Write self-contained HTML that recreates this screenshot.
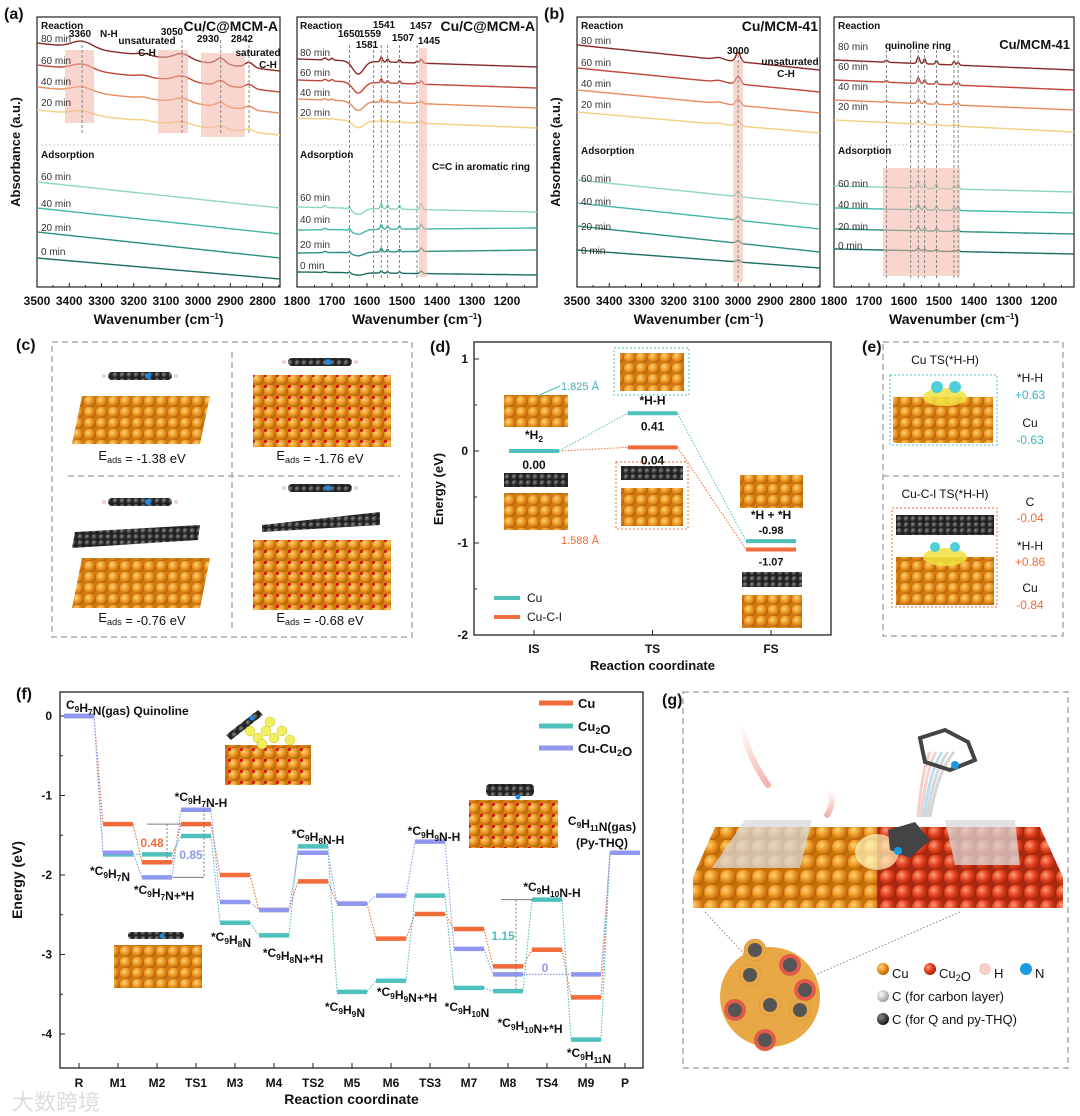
<!DOCTYPE html>
<html><head><meta charset="utf-8">
<style>
html,body{margin:0;padding:0;background:#fff;}
svg{display:block;font-family:"Liberation Sans","Noto Sans CJK SC",sans-serif;}
.b{font-weight:bold;}
</style></head>
<body>
<svg id="fig" width="1080" height="1116" viewBox="0 0 1080 1116" xmlns="http://www.w3.org/2000/svg">
<defs>
<radialGradient id="gCu" cx="0.35" cy="0.35" r="0.7"><stop offset="0" stop-color="#ffd27a"/><stop offset="0.5" stop-color="#eb9520"/><stop offset="1" stop-color="#b25c05"/></radialGradient>
<radialGradient id="gRed" cx="0.35" cy="0.35" r="0.7"><stop offset="0" stop-color="#ff9a7a"/><stop offset="0.5" stop-color="#e0401e"/><stop offset="1" stop-color="#a02008"/></radialGradient>
<radialGradient id="gC" cx="0.35" cy="0.35" r="0.7"><stop offset="0" stop-color="#888"/><stop offset="1" stop-color="#111"/></radialGradient>
<radialGradient id="gW" cx="0.35" cy="0.35" r="0.7"><stop offset="0" stop-color="#fff"/><stop offset="1" stop-color="#999"/></radialGradient>
<pattern id="pCu" width="12" height="11" patternUnits="userSpaceOnUse"><rect width="12" height="11" fill="#d07a10"/><circle cx="6" cy="5.5" r="6" fill="url(#gCu)"/></pattern>
<pattern id="pCu2O" width="12" height="11" patternUnits="userSpaceOnUse"><rect width="12" height="11" fill="#d07a10"/><circle cx="6" cy="5.5" r="6" fill="url(#gCu)"/><circle cx="1" cy="1" r="2" fill="#d51515"/></pattern>
<pattern id="pC" width="7" height="6" patternUnits="userSpaceOnUse"><rect width="7" height="6" fill="#222"/><circle cx="3.5" cy="3" r="3" fill="url(#gC)"/></pattern>
<pattern id="pCuG" width="16" height="15" patternUnits="userSpaceOnUse"><rect width="16" height="15" fill="#c8700a"/><circle cx="8" cy="7.5" r="8" fill="url(#gCu)"/></pattern>
<pattern id="pRedG" width="16" height="15" patternUnits="userSpaceOnUse"><rect width="16" height="15" fill="#a82a0e"/><circle cx="8" cy="7.5" r="8" fill="url(#gRed)"/></pattern>
<linearGradient id="gStreak" x1="0" y1="0" x2="0" y2="1"><stop offset="0" stop-color="#f4b8b0" stop-opacity="0"/><stop offset="1" stop-color="#f4a8a0" stop-opacity="0.9"/></linearGradient>
</defs>
<g id="root"></g>
</svg>
<script>
// ================= DATA =================
// Panel (f)
const fCats = ["R","M1","M2","TS1","M3","M4","TS2","M5","M6","TS3","M7","M8","TS4","M9","P"];
const fCu = [0,-1.36,-1.84,-1.36,-2.0,-2.44,-2.08,-2.36,-2.80,-2.49,-2.68,-3.15,-2.94,-3.54,-1.72];
const fCu2O = [0,-1.74,-1.74,-1.51,-2.60,-2.76,-1.64,-3.47,-3.33,-2.26,-3.42,-3.46,-2.31,-4.07,-1.72];
const fCuCu2O = [0,-1.72,-2.03,-1.18,-2.34,-2.44,-1.72,-2.36,-2.26,-1.58,-2.93,-3.25,null,-3.25,-1.72];
const fYTicks = [0,-1,-2,-3,-4];
// Panel (d)
const dCats = ["IS","TS","FS"];
const dCu = [0.00,0.41,-0.98];
const dCuCl = [0.00,0.04,-1.07];
const dYTicks = [1,0,-1,-2];
// IR spectra: peaks [wavenumber, amplitude(px), width]
const aLeftReactPeaks = [[3360,7,45],[3050,6,35],[2930,6,20],[2842,5,18],[3170,2,25]];
const aLeftAdsPeaks = [];
const aRightReactPeaks = [[1625,-13,22],[1559,5,4],[1541,3,4],[1507,3,4],[1457,2,4],[1445,4,5],[1720,2,6],[1700,2,5]];
const aRightAdsPeaks = [[1625,-6,22],[1559,6,4],[1541,4,4],[1507,4,4],[1445,6,5],[1650,3,4],[1720,2,6]];
const bLeftReactPeaks = [[3000,9,10],[3060,2,20]];
const bLeftAdsPeaks = [[3000,5,8]];
const bRightReactPeaks = [[1559,7,5],[1541,5,4],[1507,4,4],[1457,4,4],[1445,3,4],[1650,2,5]];
const bRightAdsPeaks = [[1559,7,5],[1541,5,4],[1507,5,4],[1445,5,4],[1457,3,4]];
const reactLabels = ["80 min","60 min","40 min","20 min"];
const adsLabels = ["60 min","40 min","20 min","0 min"];
const leftTicks = [3500,3400,3300,3200,3100,3000,2900,2800];
const rightTicks = [1800,1700,1600,1500,1400,1300,1200];

// ================= HELPERS =================
const NS="http://www.w3.org/2000/svg";
const root=document.getElementById('root');
function mk(tag,attrs,parent,txt){const e=document.createElementNS(NS,tag);for(const k in attrs)e.setAttribute(k,attrs[k]);if(txt!==undefined)e.textContent=txt;(parent||root).appendChild(e);return e;}
function grp(name,parent){const g=mk('g',{},parent);


return g;}
function txt(parent,x,y,s,opt){opt=opt||{};const t=mk('text',{x:x,y:y,'font-size':opt.fs||11,fill:opt.fill||'#111','text-anchor':opt.a||'start','font-weight':opt.w||'bold'},parent);
if(opt.rot)t.setAttribute('transform','rotate(-90 '+x+' '+y+')');
t.innerHTML=s;


return t;}
const sub=(s)=>'<tspan font-size="0.7em" dy="3">'+s+'</tspan><tspan dy="-3"></tspan>';

// ================= IR PANELS =================
const reactCols=["#8a2a28","#c2453a","#e98a5c","#f4cf7e"];
const adsCols=["#8cd6bf","#42b7a8","#2a907f","#1e6c60"];
function irPanel(name,ox,x1,wLeft,wRight,ticks,reactPeaks,adsPeaks,reactBase,adsBase,label){
 const g=grp(name);
 const x0=ox, top=17, bot=287;
 const xs=w=>x0+(wLeft-w)/(wLeft-wRight)*(x1-x0);
 mk('rect',{x:x0,y:top,width:x1-x0,height:bot-top,fill:'none',stroke:'#222','stroke-width':1.2},g);
 mk('line',{x1:x0,y1:145,x2:x1,y2:145,stroke:'#bbb','stroke-width':0.8,'stroke-dasharray':'2 2'},g);
 ticks.forEach(t=>{const x=xs(t);mk('line',{x1:x,y1:bot,x2:x,y2:bot-4,stroke:'#222'},g);
   const mx=xs(t-50); if(mx<x1) mk('line',{x1:mx,y1:bot,x2:mx,y2:bot-2,stroke:'#222'},g);
   txt(g,x,305,t,{fs:12,a:'middle',name:'x-tick-label'});});
 txt(g,(x0+x1)/2,324,'Wavenumber (cm<tspan font-size="8" dy="-5">−1</tspan><tspan dy="5">)</tspan>',{fs:14,a:'middle',name:'x-axis-title'});
 function spec(base,peaks,col,scale){
   let d='';
   for(let x=x0;x<=x1;x+=1){const w=wLeft-(x-x0)/(x1-x0)*(wLeft-wRight);
     let y=base[0]+(base[1]-base[0])*(x-x0)/(x1-x0);
     peaks.forEach(p=>{y-=p[1]*scale*Math.exp(-Math.pow((w-p[0])/p[2],2));});
     d+=(x===x0?'M':'L')+x+' '+y.toFixed(1);}
   const p=mk('path',{d:d,fill:'none',stroke:col,'stroke-width':1.4},g);
   
   
 }
 reactBase.forEach((b,i)=>spec(b,reactPeaks,reactCols[i],1-i*0.15));
 adsBase.forEach((b,i)=>spec(b,adsPeaks,adsCols[i],1-i*0.2));
 return {g,xs};
}
// (a) left
let P=irPanel('panel-a-left',37,280,3500,2746,leftTicks,aLeftReactPeaks,aLeftAdsPeaks,[[43,71],[65,92],[87,113],[110,135]],[[182,208],[208,234],[232,258],[258,279]]);
txt(root,4,19,'(a)',{fs:16,name:'panel-label-a'});
[[65,50,29,73],[158,50,30,83],[201,53,44,84]].forEach(r=>mk('rect',{x:r[0],y:r[1],width:r[2],height:r[3],fill:'#f4b4a4',opacity:0.55},P.g));
[3360,3050,2930,2842].forEach(w=>mk('line',{x1:P.xs(w),y1:40,x2:P.xs(w),y2:135,stroke:'#888','stroke-dasharray':'3 2'},P.g));
txt(P.g,41,29,'Reaction',{fs:10});txt(P.g,278,31,'Cu/C@MCM-A',{fs:14,a:'end'});
reactLabels.forEach((s,i)=>txt(P.g,41,[42,64,85,106][i],s,{fs:10,w:'normal',fill:'#333'}));
txt(P.g,41,158,'Adsorption',{fs:10});
adsLabels.forEach((s,i)=>txt(P.g,41,[180,207,231,255][i],s,{fs:10,w:'normal',fill:'#333'}));
txt(P.g,80,37,'3360',{fs:10,a:'middle'});txt(P.g,100,37,'N-H',{fs:10});txt(P.g,147,44,'unsaturated',{fs:10,a:'middle'});txt(P.g,147,56,'C-H',{fs:10,a:'middle'});
txt(P.g,172,35,'3050',{fs:10,a:'middle'});txt(P.g,208,42,'2930',{fs:10,a:'middle'});txt(P.g,242,42,'2842',{fs:10,a:'middle'});
txt(P.g,258,56,'saturated',{fs:10,a:'middle'});txt(P.g,268,68,'C-H',{fs:10,a:'middle'});
txt(root,20,152,'Absorbance (a.u.)',{fs:13,a:'middle',rot:true,name:'y-axis-title'});
// (a) right
P=irPanel('panel-a-right',297,537,1800,1114,rightTicks,aRightReactPeaks,aRightAdsPeaks,[[59,67],[80,88],[99,108],[118,128]],[[207,212],[230,228],[253,250],[272,275]]);
mk('rect',{x:419,y:48,width:8,height:229,fill:'#f4b4a4',opacity:0.55},P.g);
[1650,1581,1559,1541,1507,1457].forEach(w=>mk('line',{x1:P.xs(w),y1:45,x2:P.xs(w),y2:278,stroke:'#888','stroke-dasharray':'3 2'},P.g));
txt(P.g,300,29,'Reaction',{fs:10});txt(P.g,535,31,'Cu/C@MCM-A',{fs:14,a:'end'});
reactLabels.forEach((s,i)=>txt(P.g,300,[56,76,96,116][i],s,{fs:10,w:'normal',fill:'#333'}));
txt(P.g,300,158,'Adsorption',{fs:10});
adsLabels.forEach((s,i)=>txt(P.g,300,[201,223,248,269][i],s,{fs:10,w:'normal',fill:'#333'}));
[['1650',349,37],['1559',370,37],['1581',367,48],['1541',384,28],['1507',403,41],['1457',421,29],['1445',429,44]].forEach(l=>txt(P.g,l[1],l[2],l[0],{fs:10,a:'middle'}));
txt(P.g,481,170,'C=C in aromatic ring',{fs:10,a:'middle'});
// (b) left
P=irPanel('panel-b-left',577,820,3500,2746,leftTicks,bLeftReactPeaks,bLeftAdsPeaks,[[45,70],[68,92],[90,113],[112,133]],[[180,205],[203,229],[226,252],[250,268]]);
txt(root,544,19,'(b)',{fs:16,name:'panel-label-b'});
mk('rect',{x:P.xs(3015),y:60,width:P.xs(2985)-P.xs(3015),height:222,fill:'#f4b4a4',opacity:0.55},P.g);
mk('line',{x1:P.xs(3000),y1:55,x2:P.xs(3000),y2:280,stroke:'#888','stroke-dasharray':'3 2'},P.g);
txt(P.g,581,29,'Reaction',{fs:10});txt(P.g,818,31,'Cu/MCM-41',{fs:14,a:'end'});
reactLabels.forEach((s,i)=>txt(P.g,581,[44,66,87,108][i],s,{fs:10,w:'normal',fill:'#333'}));
txt(P.g,581,154,'Adsorption',{fs:10});
adsLabels.forEach((s,i)=>txt(P.g,581,[182,205,230,254][i],s,{fs:10,w:'normal',fill:'#333'}));
txt(P.g,P.xs(3000),54,'3000',{fs:10,a:'middle'});txt(P.g,790,65,'unsaturated',{fs:10,a:'middle'});txt(P.g,786,77,'C-H',{fs:10,a:'middle'});
txt(root,560,152,'Absorbance (a.u.)',{fs:13,a:'middle',rot:true,name:'y-axis-title'});
// (b) right
P=irPanel('panel-b-right',834,1074,1800,1114,rightTicks,bRightReactPeaks,bRightAdsPeaks,[[60,70],[80,90],[100,110],[120,132]],[[186,192],[208,213],[229,234],[249,254]]);
mk('rect',{x:P.xs(1660),y:168,width:P.xs(1440)-P.xs(1660),height:108,fill:'#f4b4a4',opacity:0.55},P.g);
[1650,1581,1559,1541,1507,1457,1445].forEach(w=>mk('line',{x1:P.xs(w),y1:50,x2:P.xs(w),y2:278,stroke:'#888','stroke-dasharray':'3 2'},P.g));
txt(P.g,838,29,'Reaction',{fs:10});txt(P.g,1070,49,'Cu/MCM-41',{fs:13,a:'end'});txt(P.g,918,49,'quinoline ring',{fs:10,a:'middle'});
reactLabels.forEach((s,i)=>txt(P.g,838,[50,70,90,110][i],s,{fs:10,w:'normal',fill:'#333'}));
txt(P.g,838,154,'Adsorption',{fs:10});
adsLabels.forEach((s,i)=>txt(P.g,838,[187,208,230,249][i],s,{fs:10,w:'normal',fill:'#333'}));

// ================= (c) =================
(function(){
 const g=grp('panel-c');
 txt(root,16,350,'(c)',{fs:16,name:'panel-label-c'});
 mk('rect',{x:52,y:342,width:360,height:295,fill:'none',stroke:'#aaa','stroke-width':1.5,'stroke-dasharray':'6 4'},g);
 mk('line',{x1:68,y1:476,x2:400,y2:476,stroke:'#aaa','stroke-width':1.5,'stroke-dasharray':'6 4'},g);
 mk('line',{x1:232,y1:352,x2:232,y2:630,stroke:'#aaa','stroke-width':1.5,'stroke-dasharray':'6 4'},g);
 function mol(cx,cy){mk('rect',{x:cx-32,y:cy-4,width:64,height:8,rx:4,fill:'url(#pC)'},g);mk('circle',{cx:cx+8,cy:cy,r:3,fill:'#1e88e5'},g);mk('circle',{cx:cx-36,cy:cy,r:2,fill:'#f1d0c8'},g);mk('circle',{cx:cx+36,cy:cy,r:2,fill:'#f1d0c8'},g);}
 function slab(x,y,w,h,skew){mk('polygon',{points:`${x+skew},${y} ${x+w+skew},${y} ${x+w},${y+h} ${x},${y+h}`,fill:'url(#pCu)'},g);}
 mol(140,376); slab(72,396,128,48,10);
 mol(320,362); mk('rect',{x:253,y:375,width:138,height:72,fill:'url(#pCu2O)'},g);
 mol(140,502); mk('polygon',{points:'75,532 200,525 198,540 72,548',fill:'url(#pC)'},g); slab(72,558,128,50,10);
 mol(320,488); mk('polygon',{points:'262,525 380,512 380,525 262,532',fill:'url(#pC)'},g); mk('rect',{x:253,y:540,width:138,height:70,fill:'url(#pCu2O)'},g);
 [['-1.38',142,460],['-1.76',320,460],['-0.76',142,622],['-0.68',320,622]].forEach(l=>{
   const t=txt(g,l[1],l[2],'E'+sub('ads')+' = '+l[0]+' eV',{fs:13,w:'normal',a:'middle',name:'adsorption-energy-label'});});
})();

// ================= (d) =================
(function(){
 const g=grp('panel-d');
 txt(root,430,352,'(d)',{fs:16,name:'panel-label-d'});
 const L=474,R=831,T=342,B=635;
 const ys=v=>451-v*92;
 const xs=i=>534+i*118.5;
 mk('rect',{x:L,y:T,width:R-L,height:B-T,fill:'none',stroke:'#222','stroke-width':1.3},g);
 dYTicks.forEach(t=>{mk('line',{x1:L,y1:ys(t),x2:L+5,y2:ys(t),stroke:'#222'},g);txt(g,L-6,ys(t)+4,t,{fs:12,a:'end',name:'y-tick-label'});});
 [0.5,-0.5,-1.5].forEach(t=>mk('line',{x1:L,y1:ys(t),x2:L+3,y2:ys(t),stroke:'#222'},g));
 dCats.forEach((c,i)=>{mk('line',{x1:xs(i),y1:B,x2:xs(i),y2:B-5,stroke:'#222'},g);txt(g,xs(i),653,c,{fs:12,a:'middle',name:'x-tick-label'});});
 txt(g,(L+R)/2,670,'Reaction coordinate',{fs:13,a:'middle',name:'x-axis-title'});
 txt(g,443,489,'Energy (eV)',{fs:13,a:'middle',rot:true,name:'y-axis-title'});
 // structures
 mk('rect',{x:504,y:395,width:64,height:32,fill:'url(#pCu)'},g);
 mk('rect',{x:504,y:473,width:64,height:14,fill:'url(#pC)'},g);
 mk('rect',{x:504,y:493,width:64,height:37,fill:'url(#pCu)'},g);
 mk('rect',{x:614,y:348,width:75,height:47,fill:'none',stroke:'#4fc1bd','stroke-dasharray':'2 2'},g);
 mk('rect',{x:620,y:353,width:64,height:38,fill:'url(#pCu)'},g);
 mk('rect',{x:616,y:462,width:72,height:67,fill:'none',stroke:'#f26b3a','stroke-dasharray':'2 2'},g);
 mk('rect',{x:621,y:466,width:62,height:14,fill:'url(#pC)'},g);
 mk('rect',{x:621,y:488,width:62,height:38,fill:'url(#pCu)'},g);
 mk('rect',{x:740,y:475,width:63,height:33,fill:'url(#pCu)'},g);
 mk('rect',{x:742,y:572,width:60,height:15,fill:'url(#pC)'},g);
 mk('rect',{x:742,y:595,width:60,height:33,fill:'url(#pCu)'},g);
 mk('line',{x1:537,y1:396,x2:560,y2:386,stroke:'#4fc1bd'},g);
 txt(g,561,390,'1.825 Å',{fs:11,fill:'#3bb3c0',w:'normal'});
 txt(g,561,544,'1.588 Å',{fs:11,fill:'#f26b3a',w:'normal'});
 // series
 function series(vals,col,name){
   for(let i=0;i<vals.length-1;i++) mk('line',{x1:xs(i)+25,y1:ys(vals[i]),x2:xs(i+1)-25,y2:ys(vals[i+1]),stroke:col,'stroke-width':1,'stroke-dasharray':'1.5 1.5'},g);
   vals.forEach((v,i)=>{const b=mk('line',{x1:xs(i)-25,y1:ys(v),x2:xs(i)+25,y2:ys(v),stroke:col,'stroke-width':4},g);
     
     });
 }
 series(dCuCl,'#f26b3a','cu-c-l');
 series(dCu,'#4fc1bd','cu');
 txt(g,xs(0),ys(0)-12,'*H'+sub('2'),{fs:12,a:'middle'});
 txt(g,xs(0),ys(0)+18,dCu[0].toFixed(2),{fs:12,a:'middle'});
 txt(g,xs(1),ys(dCu[1])-9,'*H-H',{fs:12,a:'middle'});
 txt(g,xs(1),ys(dCu[1])+17,dCu[1].toFixed(2),{fs:12,a:'middle'});
 txt(g,xs(1),ys(dCuCl[1])+17,dCuCl[1].toFixed(2),{fs:12,a:'middle'});
 txt(g,xs(2),ys(dCu[2])-22,'*H + *H',{fs:12,a:'middle'});
 txt(g,xs(2),ys(dCu[2])-7,dCu[2].toFixed(2),{fs:11,a:'middle'});
 txt(g,xs(2),ys(dCuCl[2])+16,dCuCl[2].toFixed(2),{fs:11,a:'middle'});
 mk('line',{x1:494,y1:598,x2:520,y2:598,stroke:'#4fc1bd','stroke-width':4},g);
 mk('line',{x1:494,y1:617,x2:520,y2:617,stroke:'#f26b3a','stroke-width':4},g);
 txt(g,527,602,'Cu',{fs:12,w:'normal',name:'legend-entry'});txt(g,527,621,'Cu-C-l',{fs:12,w:'normal',name:'legend-entry'});
})();

// ================= (e) =================
(function(){
 const g=grp('panel-e');
 txt(root,862,352,'(e)',{fs:16,name:'panel-label-e'});
 mk('rect',{x:883,y:342,width:180,height:294,fill:'none',stroke:'#aaa','stroke-width':1.5,'stroke-dasharray':'6 4'},g);
 mk('line',{x1:883,y1:476,x2:1063,y2:476,stroke:'#aaa','stroke-width':1.5,'stroke-dasharray':'6 4'},g);
 txt(g,945,364,'Cu TS(*H-H)',{fs:12,w:'normal',a:'middle'});
 mk('rect',{x:890,y:375,width:107,height:70,fill:'none',stroke:'#4fc1bd','stroke-dasharray':'2 2'},g);
 mk('rect',{x:893,y:397,width:100,height:46,fill:'url(#pCu)'},g);
 mk('ellipse',{cx:945,cy:397,rx:22,ry:9,fill:'#f0e040',opacity:0.85},g);
 mk('circle',{cx:937,cy:387,r:6,fill:'#4fd0d8'},g);mk('circle',{cx:955,cy:387,r:6,fill:'#4fd0d8'},g);
 txt(g,1030,382,'*H-H',{fs:12,w:'normal',a:'middle'});txt(g,1030,399,'+0.63',{fs:12,w:'normal',a:'middle',fill:'#3bb3c0'});
 txt(g,1030,427,'Cu',{fs:12,w:'normal',a:'middle'});txt(g,1030,444,'-0.63',{fs:12,w:'normal',a:'middle',fill:'#3bb3c0'});
 txt(g,945,498,'Cu-C-l TS(*H-H)',{fs:12,w:'normal',a:'middle'});
 mk('rect',{x:892,y:508,width:105,height:99,fill:'none',stroke:'#f26b3a','stroke-dasharray':'2 2'},g);
 mk('rect',{x:896,y:515,width:98,height:20,fill:'url(#pC)'},g);
 mk('rect',{x:896,y:557,width:98,height:48,fill:'url(#pCu)'},g);
 mk('ellipse',{cx:945,cy:557,rx:22,ry:9,fill:'#f0e040',opacity:0.85},g);
 mk('circle',{cx:935,cy:547,r:5,fill:'#4fd0d8'},g);mk('circle',{cx:955,cy:547,r:5,fill:'#4fd0d8'},g);
 txt(g,1030,506,'C',{fs:12,w:'normal',a:'middle'});txt(g,1030,522,'-0.04',{fs:12,w:'normal',a:'middle',fill:'#f26b3a'});
 txt(g,1030,550,'*H-H',{fs:12,w:'normal',a:'middle'});txt(g,1030,566,'+0.86',{fs:12,w:'normal',a:'middle',fill:'#f26b3a'});
 txt(g,1030,592,'Cu',{fs:12,w:'normal',a:'middle'});txt(g,1030,609,'-0.84',{fs:12,w:'normal',a:'middle',fill:'#f26b3a'});
})();

// ================= (f) =================
(function(){
 const g=grp('panel-f');
 txt(root,16,699,'(f)',{fs:16,name:'panel-label-f'});
 const L=60,R=643,T=692,B=1068;
 const ys=v=>716-v*79.5;
 const xs=i=>79+i*39;
 mk('rect',{x:L,y:T,width:R-L,height:B-T,fill:'none',stroke:'#222','stroke-width':1.3},g);
 fYTicks.forEach(t=>{mk('line',{x1:L,y1:ys(t),x2:L+5,y2:ys(t),stroke:'#222'},g);txt(g,L-8,ys(t)+4,t,{fs:12,a:'end',name:'y-tick-label'});});
 [-0.5,-1.5,-2.5,-3.5].forEach(t=>mk('line',{x1:L,y1:ys(t),x2:L+3,y2:ys(t),stroke:'#222'},g));
 fCats.forEach((c,i)=>{mk('line',{x1:xs(i),y1:B,x2:xs(i),y2:B-5,stroke:'#222'},g);txt(g,xs(i),1087,c,{fs:12,a:'middle',name:'x-tick-label'});});
 txt(g,(L+R)/2,1104,'Reaction coordinate',{fs:14,a:'middle',name:'x-axis-title'});
 txt(g,22,880,'Energy (eV)',{fs:14,a:'middle',rot:true,name:'y-axis-title'});
 // insets
 mk('rect',{x:225,y:745,width:86,height:40,fill:'url(#pCu2O)'},g);
 [[258,738],[266,731],[274,738],[282,731],[270,722],[262,744],[290,740],[250,731]].forEach(p=>mk('circle',{cx:p[0],cy:p[1],r:5,fill:'#f2ee60',stroke:'#c9c030','stroke-width':0.5},g));
 mk('polygon',{points:'226,735 258,710 263,715 231,740',fill:'url(#pC)'},g);
 mk('circle',{cx:252,cy:718,r:2.5,fill:'#1e88e5'},g);
 mk('rect',{x:114,y:945,width:88,height:43,fill:'url(#pCu)'},g);
 mk('rect',{x:128,y:932,width:56,height:7,rx:3,fill:'url(#pC)'},g);mk('circle',{cx:162,cy:936,r:2.5,fill:'#1e88e5'},g);
 mk('rect',{x:469,y:800,width:89,height:48,fill:'url(#pCu2O)'},g);
 mk('rect',{x:486,y:784,width:48,height:12,rx:4,fill:'url(#pC)'},g);mk('circle',{cx:518,cy:797,r:2.5,fill:'#1e88e5'},g);
 // series
 const cols={cu:'#f26b3a',cu2o:'#4fc1bd',cucu2o:'#8f97ef'};
 function series(vals,col,name){
   let prev=null;
   vals.forEach((v,i)=>{ if(v===null) return;
     if(prev!==null) mk('line',{x1:xs(prev)+15,y1:ys(vals[prev]),x2:xs(i)-15,y2:ys(v),stroke:col,'stroke-width':1.1,'stroke-dasharray':'1.5 1.5'},g);
     prev=i;});
   vals.forEach((v,i)=>{ if(v===null) return;
     const b=mk('line',{x1:xs(i)-15,y1:ys(v),x2:xs(i)+15,y2:ys(v),stroke:col,'stroke-width':4.5},g);
     
     });
 }
 series(fCu,cols.cu,'cu');
 series(fCu2O,cols.cu2o,'cu2o');
 series(fCuCu2O,cols.cucu2o,'cu-cu2o');
 // annotations
 mk('line',{x1:147,y1:ys(fCu[1]),x2:181,y2:ys(fCu[1]),stroke:'#777'},g);
 mk('line',{x1:167,y1:ys(fCu[1]),x2:167,y2:ys(fCu[2]),stroke:'#777','stroke-dasharray':'2 2'},g);
 mk('line',{x1:173,y1:ys(fCuCu2O[2]),x2:204,y2:ys(fCuCu2O[2]),stroke:'#777'},g);
 mk('line',{x1:204,y1:ys(fCuCu2O[3]),x2:204,y2:ys(fCuCu2O[2]),stroke:'#777','stroke-dasharray':'2 2'},g);
 mk('line',{x1:501,y1:ys(fCu2O[12]),x2:533,y2:ys(fCu2O[12]),stroke:'#777'},g);
 mk('line',{x1:516,y1:ys(fCu2O[12]),x2:516,y2:ys(fCu2O[11]),stroke:'#777','stroke-dasharray':'2 2'},g);
 mk('line',{x1:xs(11)+15,y1:ys(fCuCu2O[11]),x2:xs(13)-15,y2:ys(fCuCu2O[13]),stroke:cols.cucu2o,'stroke-width':1.2,'stroke-dasharray':'1.5 1.5'},g);
 txt(g,152,847,(fCu[1]-fCu[2]).toFixed(2),{fs:12,a:'middle',fill:cols.cu});
 txt(g,191,859,(fCuCu2O[3]-fCuCu2O[2]).toFixed(2),{fs:12,a:'middle',fill:cols.cucu2o});
 txt(g,503,940,(fCu2O[12]-fCu2O[11]).toFixed(2),{fs:12,a:'middle',fill:cols.cu2o});
 txt(g,545,972,'0',{fs:12,a:'middle',fill:cols.cucu2o});
 txt(g,66,709,'C'+sub('9')+'H'+sub('7')+'N(gas) Quinoline',{fs:12});
 [['*C'+sub('9')+'H'+sub('7')+'N',110,875],['*C'+sub('9')+'H'+sub('7')+'N+*H',164,894],['*C'+sub('9')+'H'+sub('7')+'N-H',201,801],
  ['*C'+sub('9')+'H'+sub('8')+'N',231,941],['*C'+sub('9')+'H'+sub('8')+'N+*H',293,957],['*C'+sub('9')+'H'+sub('8')+'N-H',318,838],
  ['*C'+sub('9')+'H'+sub('9')+'N',345,1011],['*C'+sub('9')+'H'+sub('9')+'N+*H',407,996],['*C'+sub('9')+'H'+sub('9')+'N-H',434,835],
  ['*C'+sub('9')+'H'+sub('10')+'N',467,1011],['*C'+sub('9')+'H'+sub('10')+'N-H',552,891],['*C'+sub('9')+'H'+sub('10')+'N+*H',530,1027],
  ['*C'+sub('9')+'H'+sub('11')+'N',589,1057],['C'+sub('9')+'H'+sub('11')+'N(gas)',602,825],['(Py-THQ)',602,847]
 ].forEach(l=>txt(g,l[1],l[2],l[0],{fs:12,a:'middle',name:'intermediate-label'}));
 [['Cu',cols.cu,703],['Cu'+sub('2')+'O',cols.cu2o,726],['Cu-Cu'+sub('2')+'O',cols.cucu2o,748]].forEach(l=>{
   mk('line',{x1:539,y1:l[2],x2:573,y2:l[2],stroke:l[1],'stroke-width':5},g);
   txt(g,578,l[2]+5,l[0],{fs:13,name:'legend-entry'});});
 txt(root,12,1110,'大数跨境',{fs:22,fill:'#ddd',w:'normal',name:'watermark'});
})();

// ================= (g) =================
(function(){
 const g=grp('panel-g');
 txt(root,662,705,'(g)',{fs:16,name:'panel-label-g'});
 mk('rect',{x:683,y:692,width:385,height:376,fill:'none',stroke:'#aaa','stroke-width':1.5,'stroke-dasharray':'6 4'},g);
 [[742,725,768,785],[830,790,827,815],[712,850,717,870]].forEach(s=>mk('path',{d:`M${s[0]} ${s[1]} Q${s[0]+5} ${(s[1]+s[3])/2} ${s[2]} ${s[3]}`,stroke:'url(#gStreak)','stroke-width':6,fill:'none','stroke-linecap':'round'},g));
 [0,1,2,3,4].forEach(i=>mk('path',{d:`M${918+i*3} ${817} Q${922+i*4} 770 ${930+i*6} 752`,stroke:i<2?'#e9b0a8':(i==2?'#88c8e8':'#bbb'),'stroke-width':3,fill:'none',opacity:0.6},g));
 mk('polygon',{points:'715,827 877,827 877,877 693,877',fill:'url(#pCuG)'},g);
 mk('polygon',{points:'877,827 1040,827 1063,877 877,877',fill:'url(#pRedG)'},g);
 mk('rect',{x:693,y:877,width:184,height:31,fill:'url(#pCuG)'},g);
 mk('rect',{x:877,y:877,width:186,height:31,fill:'url(#pRedG)'},g);
 mk('ellipse',{cx:877,cy:852,rx:22,ry:18,fill:'#fff8c0',opacity:0.7},g);
 mk('polygon',{points:'745,820 812,820 800,868 712,868',fill:'#d8d8d8',opacity:0.75},g);
 mk('polygon',{points:'945,820 1015,820 1020,865 955,865',fill:'#d8d8d8',opacity:0.75},g);
 mk('polygon',{points:'888,830 915,822 930,840 910,858 890,850',fill:'#444'},g);mk('circle',{cx:898,cy:851,r:4,fill:'#1a9be0'},g);
 mk('polygon',{points:'920,738 945,730 968,742 975,760 950,770 925,762',fill:'none',stroke:'#444','stroke-width':4},g);mk('circle',{cx:955,cy:765,r:4,fill:'#1a9be0'},g);
 mk('circle',{cx:770,cy:997,r:50,fill:'#e8a846'},g);
 [[750,975],[790,965],[770,1005],[735,1010],[800,1010],[765,1040],[755,950],[805,990]].forEach((p,i)=>{
   mk('circle',{cx:p[0],cy:p[1],r:11,fill:i%2?'#e25a4a':'#e8a846',stroke:'#d79030','stroke-width':0.5},g);
   mk('circle',{cx:p[0],cy:p[1],r:7,fill:'#555'},g);});
 mk('line',{x1:705,y1:912,x2:745,y2:955,stroke:'#888','stroke-dasharray':'1.5 2'},g);
 mk('line',{x1:960,y1:912,x2:815,y2:975,stroke:'#888','stroke-dasharray':'1.5 2'},g);
 const lg=[['url(#gCu)',883,973],['url(#gRed)',930,973],['#f3cfc8',985,973],['#1a9be0',1026,973],['url(#gW)',883,1000],['url(#gC)',883,1023]];
 lg.forEach(l=>mk('circle',{cx:l[1],cy:l[2]-4,r:6,fill:l[0]},g));
 txt(g,892,978,'Cu',{fs:13,w:'normal',name:'legend-entry'});txt(g,939,978,'Cu'+sub('2')+'O',{fs:13,w:'normal',name:'legend-entry'});
 txt(g,994,978,'H',{fs:13,w:'normal',name:'legend-entry'});txt(g,1035,978,'N',{fs:13,w:'normal',name:'legend-entry'});
 txt(g,892,1001,'C (for carbon layer)',{fs:13,w:'normal',name:'legend-entry'});
 txt(g,892,1024,'C (for Q and py-THQ)',{fs:13,w:'normal',name:'legend-entry'});
})();
</script>
</body></html>
